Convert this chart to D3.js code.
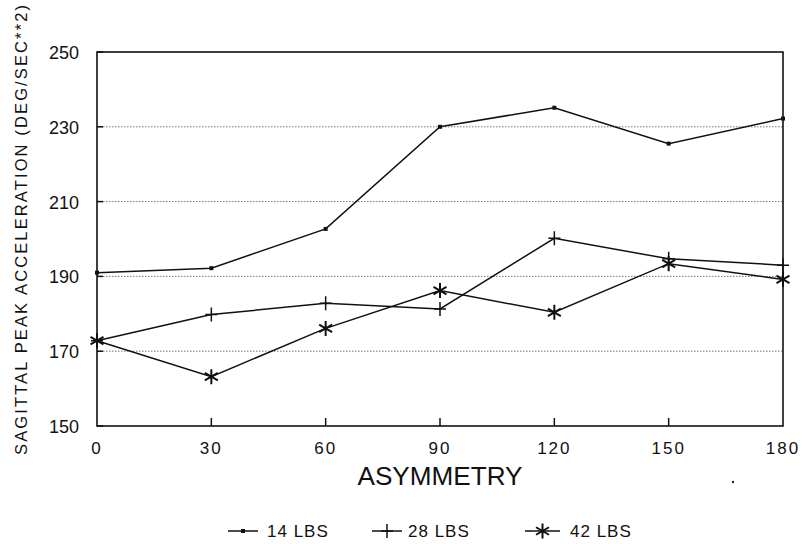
<!DOCTYPE html>
<html>
<head>
<meta charset="utf-8">
<script src="https://cdn.jsdelivr.net/npm/d3@7"></script>
<style>
  body { margin: 0; background: #fff; }
  text { font-family: "Liberation Sans", Arial, sans-serif; fill: #111; }
</style>
</head>
<body>
<div id="chart"></div>
<script>
// values
var asymmetry = [0, 30, 60, 90, 120, 150, 180];
var lbs14 = [191, 192.2, 202.7, 230, 235.1, 225.5, 232.2];
var lbs28 = [172.8, 179.8, 182.8, 181.3, 200.2, 194.7, 193];
var lbs42 = [172.8, 163.2, 176.1, 186.2, 180.4, 193.4, 189.2];
var yTicks = [150, 170, 190, 210, 230, 250];
var xTicks = [0, 30, 60, 90, 120, 150, 180];
var seriesNames = ["14 LBS", "28 LBS", "42 LBS"];

var width = 803, height = 544;

var svg = d3.select("#chart")
  .append("svg")
  .attr("width", width)
  .attr("height", height)

var x = d3.scaleLinear().domain([0, 180]).range([97, 783]);
var y = d3.scaleLinear().domain([150, 250]).range([426, 52]);

// dotted grid
svg.selectAll(".grid")
  .data(yTicks.slice(1, -1)).enter().append("line")
    .attr("class", "grid")
    .attr("x1", x(0)).attr("x2", x(180))
    .attr("y1", function(d){ return y(d) })
    .attr("y2", function(d){ return y(d) })
    .attr("stroke", "#777")
    .attr("stroke-width", 1)
    .attr("stroke-dasharray", "1.5,1.5")

// small inward ticks on left axis
svg.selectAll(".ytick")
  .data(yTicks).enter().append("line")
    .attr("x1", x(0)).attr("x2", x(0) + 6)
    .attr("y1", function(d){ return y(d) })
    .attr("y2", function(d){ return y(d) })
    .attr("stroke", "#111").attr("stroke-width", 1.5)

// x ticks pointing up
svg.selectAll(".xtick")
  .data(xTicks.slice(1, -1)).enter().append("line")
    .attr("x1", function(d){ return x(d) })
    .attr("x2", function(d){ return x(d) })
    .attr("y1", y(150)).attr("y2", y(150) - 8)
    .attr("stroke", "#111").attr("stroke-width", 1.5)

// frame
svg.append("rect")
  .attr("x", x(0)).attr("y", y(250))
  .attr("width", x(180) - x(0)).attr("height", y(150) - y(250))
  .attr("fill", "none")
  .attr("stroke", "#111")
  .attr("stroke-width", 1.6)

// tick labels
svg.selectAll(".ylab")
  .data(yTicks).enter().append("text")
    .attr("x", 79)
    .attr("y", function(d){ return y(d) + 7 })
    .attr("text-anchor", "end")
    .style("font-size", "18px")
    .text(function(d){ return d })

svg.selectAll(".xlab")
  .data(xTicks).enter().append("text")
    .attr("x", function(d){ return x(d) })
    .attr("y", 454)
    .attr("text-anchor", "middle")
    .style("font-size", "17px")
    .style("letter-spacing", "2px")
    .text(function(d){ return d })

// axis titles
svg.append("text")
  .attr("x", 440).attr("y", 485)
  .attr("text-anchor", "middle")
  .style("font-size", "26px")
  .attr("textLength", 165)
  .attr("lengthAdjust", "spacingAndGlyphs")
  .text("ASYMMETRY")

svg.append("text")
  .attr("transform", "translate(27,230) rotate(-90)")
  .attr("text-anchor", "middle")
  .style("font-size", "16.5px")
  .attr("textLength", 450)
  .attr("lengthAdjust", "spacing")
  .text("SAGITTAL PEAK ACCELERATION (DEG/SEC**2)")

// stray dot from the scan
svg.append("circle").attr("cx", 733).attr("cy", 482).attr("r", 1.2).attr("fill", "#222")

// markers
function drawMarker(g, kind, cx, cy){
  if (kind === 0) {
    g.append("rect").attr("x", cx - 2).attr("y", cy - 2).attr("width", 4).attr("height", 4).attr("fill", "#111")
  } else if (kind === 1) {
    g.append("path").attr("d", "M" + cx + "," + (cy - 7) + "V" + (cy + 7) + "M" + (cx - 6) + "," + cy + "H" + (cx + 6))
      .attr("stroke", "#111").attr("stroke-width", 1.5).attr("fill", "none")
  } else {
    var r = 7.5, d = "";
    [90, 30, -30].forEach(function(a){
      var rad = a * Math.PI / 180;
      var dx = r * Math.cos(rad), dy = r * Math.sin(rad);
      d += "M" + (cx - dx) + "," + (cy - dy) + "L" + (cx + dx) + "," + (cy + dy);
    })
    g.append("path").attr("d", d).attr("stroke", "#111").attr("stroke-width", 2).attr("fill", "none")
  }
}

var line = d3.line()
  .x(function(d){ return x(d[0]) })
  .y(function(d){ return y(d[1]) })

var allSeries = [lbs14, lbs28, lbs42];
allSeries.forEach(function(vals, k){
  var pts = asymmetry.map(function(a, i){ return [a, vals[i]] });
  var g = svg.append("g");
  g.append("path")
    .attr("d", line(pts))
    .attr("fill", "none")
    .attr("stroke", "#111")
    .attr("stroke-width", 1.5)
  pts.forEach(function(p){ drawMarker(g, k, x(p[0]), y(p[1])) })
})

// legend
var legX = [[228, 258, 267], [372, 402, 408], [525, 560, 570]];
seriesNames.forEach(function(name, k){
  var ly = 531;
  var g = svg.append("g");
  g.append("line")
    .attr("x1", legX[k][0]).attr("x2", legX[k][1])
    .attr("y1", ly).attr("y2", ly)
    .attr("stroke", "#111").attr("stroke-width", 1.5)
  drawMarker(g, k, (legX[k][0] + legX[k][1]) / 2, ly)
  g.append("text")
    .attr("x", legX[k][2]).attr("y", ly + 6)
    .style("font-size", "17px")
    .style("letter-spacing", "1px")
    .text(name)
})
</script>
</body>
</html>
